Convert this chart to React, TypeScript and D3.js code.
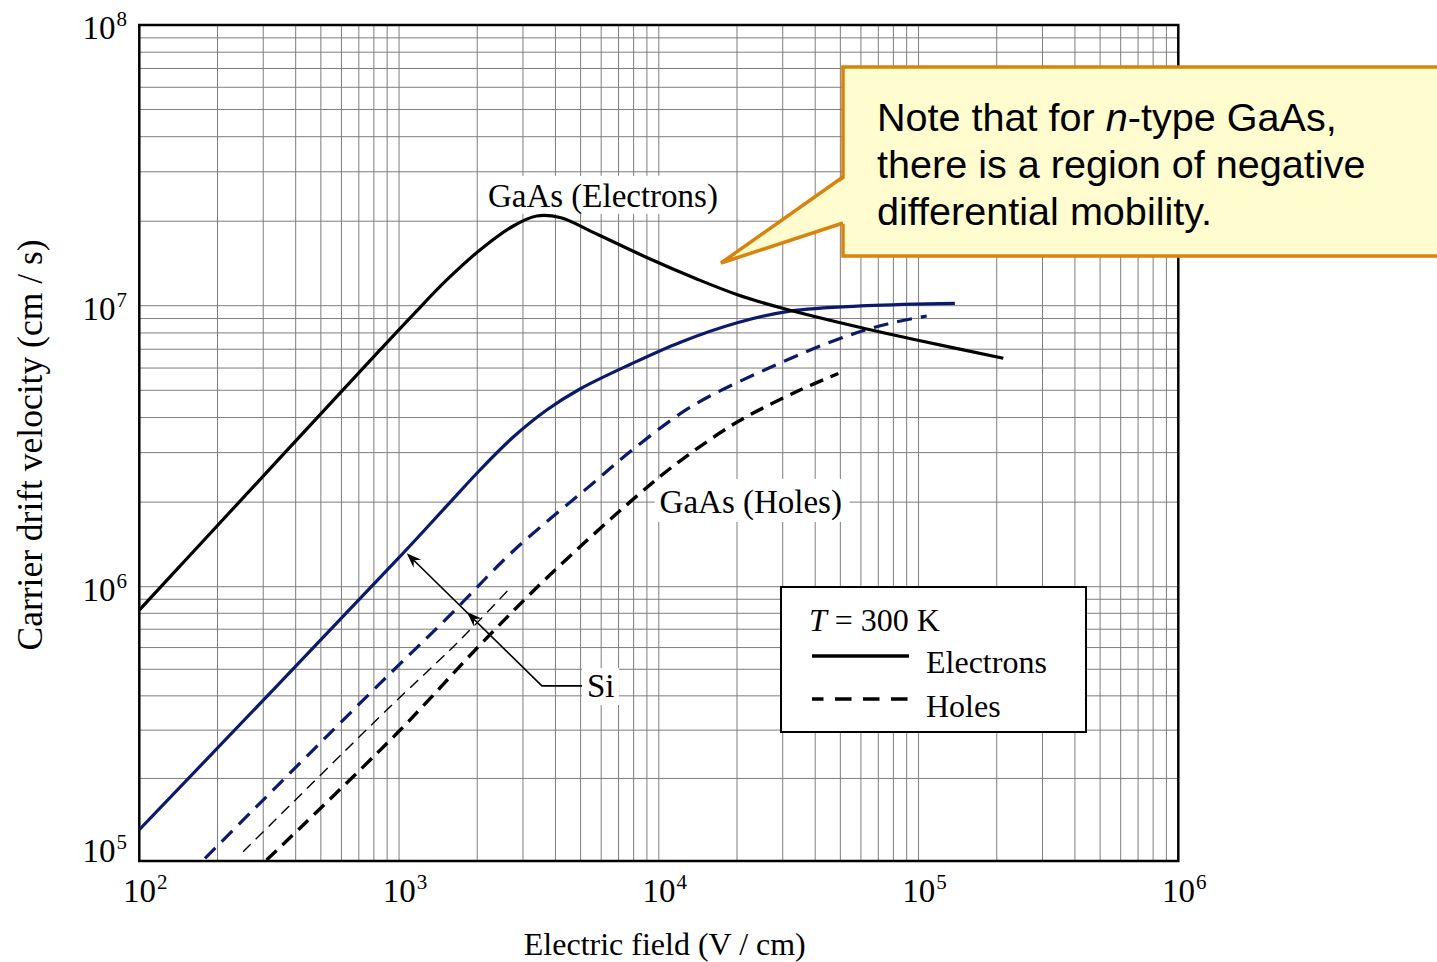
import React from 'react';
import * as d3 from 'd3';

// Values: field E in V/cm, drift velocity v in cm/s

const gaasElecField = [100, 152, 845, 1134, 1526, 2049, 2753, 3388, 4165, 5767, 8983, 14000, 20200, 30200, 63200, 98400, 212000];
const gaasElecVel = [8.22e5, 1.255e6, 6.96e6, 9.3e6, 1.235e7, 1.579e7, 1.923e7, 2.087e7, 2.062e7, 1.8e7, 1.485e7, 1.245e7, 1.092e7, 9.77e6, 8.26e6, 7.55e6, 6.5e6];

const siElecField = [100, 980, 1526, 2049, 2753, 3702, 4972, 7745, 12060, 20200, 32000, 63200, 138000];
const siElecVel = [1.3e5, 1.245e6, 1.938e6, 2.602e6, 3.41e6, 4.254e6, 5.053e6, 6.175e6, 7.4e6, 8.71e6, 9.57e6, 1.0e7, 1.02e7];

const siHoleField = [179, 845, 1526, 2753, 5595, 7745, 12060, 15740, 26030, 46960, 73170, 107500];
const siHoleVel = [1.023e5, 4.44e5, 7.66e5, 1.34e6, 2.34e6, 3.02e6, 4.12e6, 4.77e6, 5.95e6, 7.49e6, 8.54e6, 9.19e6];

// the original (thin) Si holes trace under the highlighted one
const siHoleOrigField = [251, 896, 1571, 1931, 2673];
const siHoleOrigVel = [1.08e5, 3.55e5, 5.88e5, 7.15e5, 9.87e5];

const gaasHoleField = [309, 980, 2049, 3702, 8220, 12060, 20200, 34970, 49100];
const gaasHoleVel = [1.008e5, 2.916e5, 6.13e5, 1.074e6, 2.1e6, 2.8e6, 3.87e6, 5.01e6, 5.74e6];

const xExponents = [2, 3, 4, 5, 6];
const yExponents = [5, 6, 7, 8];

const calloutLines = ['there is a region of negative', 'differential mobility.'];

const W = 1437;
const H = 962;
const left = 139.3;
const right = 1178.3;
const top = 25;
const bottom = 861;

const NAVY = '#0c1a6c';
const SERIF = '"Liberation Serif", "Times New Roman", serif';
const SANS = '"Liberation Sans", Arial, sans-serif';

const zip = (a: number[], b: number[]) => a.map((d, i) => [d, b[i]] as [number, number]);

function App() {
    const x = d3.scaleLog().domain([1e2, 1e6]).range([left, right]);
    // the scanned axis is slightly uneven per decade
    const y = d3.scaleLog().domain([1e5, 1e6, 1e7, 1e8]).range([bottom, 586.7, 305.7, top]);

    const line = d3.line<[number, number]>()
        .x((d) => x(d[0]))
        .y((d) => y(d[1]))
        .curve(d3.curveCatmullRom.alpha(0.5));

    const xGrid: number[] = [];
    for (let e = 2; e < 6; e++) for (let k = 1; k <= 9; k++) xGrid.push(k * 10 ** e);
    const yGrid: number[] = [];
    for (let e = 5; e < 8; e++) for (let k = 1; k <= 9; k++) yGrid.push(k * 10 ** e);

    const series = [
        { key: 'siHoleOrig', pts: zip(siHoleOrigField, siHoleOrigVel), color: '#000', w: 1.4, dash: '11 7' },
        { key: 'gaasHole', pts: zip(gaasHoleField, gaasHoleVel), color: '#000', w: 3.4, dash: '14 8' },
        { key: 'siHole', pts: zip(siHoleField, siHoleVel), color: NAVY, w: 3.2, dash: '15 9' },
        { key: 'siElec', pts: zip(siElecField, siElecVel), color: NAVY, w: 3.2, dash: null },
        { key: 'gaasElec', pts: zip(gaasElecField, gaasElecVel), color: '#000', w: 3.2, dash: null },
    ];

    // Si annotation (data coordinates)
    const siCorner: [number, number] = [x(3548), y(4.35e5)];
    const siEnd: [number, number] = [x(5060), y(4.35e5)];
    const tip1: [number, number] = [x(1070), y(1.315e6)];
    const tip2: [number, number] = [x(1826), y(8.09e5)];
    const ang = Math.atan2(tip1[1] - siCorner[1], tip1[0] - siCorner[0]);
    const head = (p: [number, number]) => {
        const L = 15, Wd = 5.5, n = 10;
        const c = Math.cos(ang), s = Math.sin(ang);
        const pt = (a: number, b: number) => `${p[0] - a * c - b * s},${p[1] - a * s + b * c}`;
        return `M${pt(0, 0)}L${pt(L, Wd)}L${pt(n, 0)}L${pt(L, -Wd)}Z`;
    };

    const gaasElecLabel = { x: x(6095), y: y(2.25e7) };
    const gaasHoleLabel = { x: x(22600), y: y(1.83e6) };
    const siLabel = { x: x(5290), y: y(3.96e5) };

    return (
        <div style={{ position: 'absolute', left: 0, top: 0 }}>
            <svg width={W} height={H} style={{ display: 'block', background: '#fff' }}>
                <defs>
                    <clipPath id="plot">
                        <rect x={left} y={top} width={right - left} height={bottom - top} />
                    </clipPath>
                </defs>

                {/* grid */}
                <g stroke="#7d7d7d" strokeWidth={1}>
                    {xGrid.map((v) => (
                        <line key={'x' + v} x1={x(v)} x2={x(v)} y1={top} y2={bottom} />
                    ))}
                    {yGrid.map((v) => (
                        <line key={'y' + v} x1={left} x2={right} y1={y(v)} y2={y(v)} />
                    ))}
                </g>

                {/* label backgrounds */}
                <g fill="#fff">
                    <rect x={gaasElecLabel.x - 119} y={gaasElecLabel.y - 31} width={238} height={38} />
                    <rect x={gaasHoleLabel.x - 96} y={gaasHoleLabel.y - 34} width={195} height={43} />
                    <rect x={siLabel.x - 5} y={siLabel.y - 29} width={37} height={37} />
                </g>

                {/* frame */}
                <rect x={left} y={top} width={right - left} height={bottom - top} fill="none" stroke="#000" strokeWidth={2.5} />

                {/* curves */}
                <g clipPath="url(#plot)" fill="none">
                    {series.map((s) => (
                        <path
                            key={s.key}
                            d={line(s.pts) || ''}
                            stroke={s.color}
                            strokeWidth={s.w}
                            strokeDasharray={s.dash || undefined}
                        />
                    ))}
                </g>

                {/* Si arrows */}
                <g stroke="#000" strokeWidth={1.6} fill="none">
                    <polyline points={`${siEnd[0]},${siEnd[1]} ${siCorner[0]},${siCorner[1]} ${tip1[0] + 4},${tip1[1] + 4}`} />
                </g>
                <path d={head(tip1)} fill="#000" />
                <path d={head(tip2)} fill="#000" />

                {/* curve labels */}
                <g fontFamily={SERIF} fontSize={33} fill="#000">
                    <text x={gaasElecLabel.x} y={gaasElecLabel.y} textAnchor="middle">GaAs (Electrons)</text>
                    <text x={gaasHoleLabel.x} y={gaasHoleLabel.y} textAnchor="middle">GaAs (Holes)</text>
                    <text x={siLabel.x} y={siLabel.y}>Si</text>
                </g>

                {/* tick labels */}
                <g fontFamily={SERIF} fill="#000">
                    {xExponents.map((e) => (
                        <text key={'xt' + e} x={x(10 ** e) + 6} y={902} fontSize={33} textAnchor="middle">
                            10<tspan fontSize={21} dy={-13} dx={1}>{e}</tspan>
                        </text>
                    ))}
                    {yExponents.map((e) => (
                        <text key={'yt' + e} x={127} y={y(10 ** e) + (e === 5 ? 1 : 14)} fontSize={33} textAnchor="end">
                            10<tspan fontSize={21} dy={-13} dx={1}>{e}</tspan>
                        </text>
                    ))}
                </g>

                {/* axis titles */}
                <text x={(left + right) / 2 + 6} y={955} fontFamily={SERIF} fontSize={32} textAnchor="middle">
                    Electric field (V / cm)
                </text>
                <text
                    transform={`translate(42,${445}) rotate(-90)`}
                    fontFamily={SERIF}
                    fontSize={35.5}
                    textAnchor="middle"
                >
                    Carrier drift velocity (cm / s)
                </text>

                {/* legend */}
                <g>
                    <rect x={781} y={587} width={305} height={145} fill="#fff" stroke="#000" strokeWidth={2} />
                    <text x={809} y={631} fontFamily={SERIF} fontSize={32}>
                        <tspan fontStyle="italic">T</tspan> = 300 K
                    </text>
                    <line x1={812} x2={909} y1={656} y2={656} stroke="#000" strokeWidth={3.5} />
                    <line x1={812} x2={909} y1={699} y2={699} stroke="#000" strokeWidth={3.5} strokeDasharray="16.5 11.5" strokeDashoffset={5} />
                    <text x={926} y={673} fontFamily={SERIF} fontSize={32}>Electrons</text>
                    <text x={926} y={717} fontFamily={SERIF} fontSize={32}>Holes</text>
                </g>

                {/* callout */}
                <g>
                    <rect x={843} y={67} width={700} height={189} fill="#fffdd0" stroke="#d9830c" strokeWidth={3.5} />
                    <polygon points="847,177 721,263 847,223" fill="#fffdd0" />
                    <polyline points="843,177 721,263 843,223" fill="none" stroke="#d9830c" strokeWidth={3.5} strokeLinejoin="miter" />
                    <g fontFamily={SANS} fontSize={39.6} fill="#000">
                        <text x={877} y={131}>
                            Note that for <tspan fontStyle="italic">n</tspan>-type GaAs,
                        </text>
                        {calloutLines.map((t, i) => (
                            <text key={t} x={877} y={178 + i * 47}>{t}</text>
                        ))}
                    </g>
                </g>
            </svg>
        </div>
    );
}

export default App;
